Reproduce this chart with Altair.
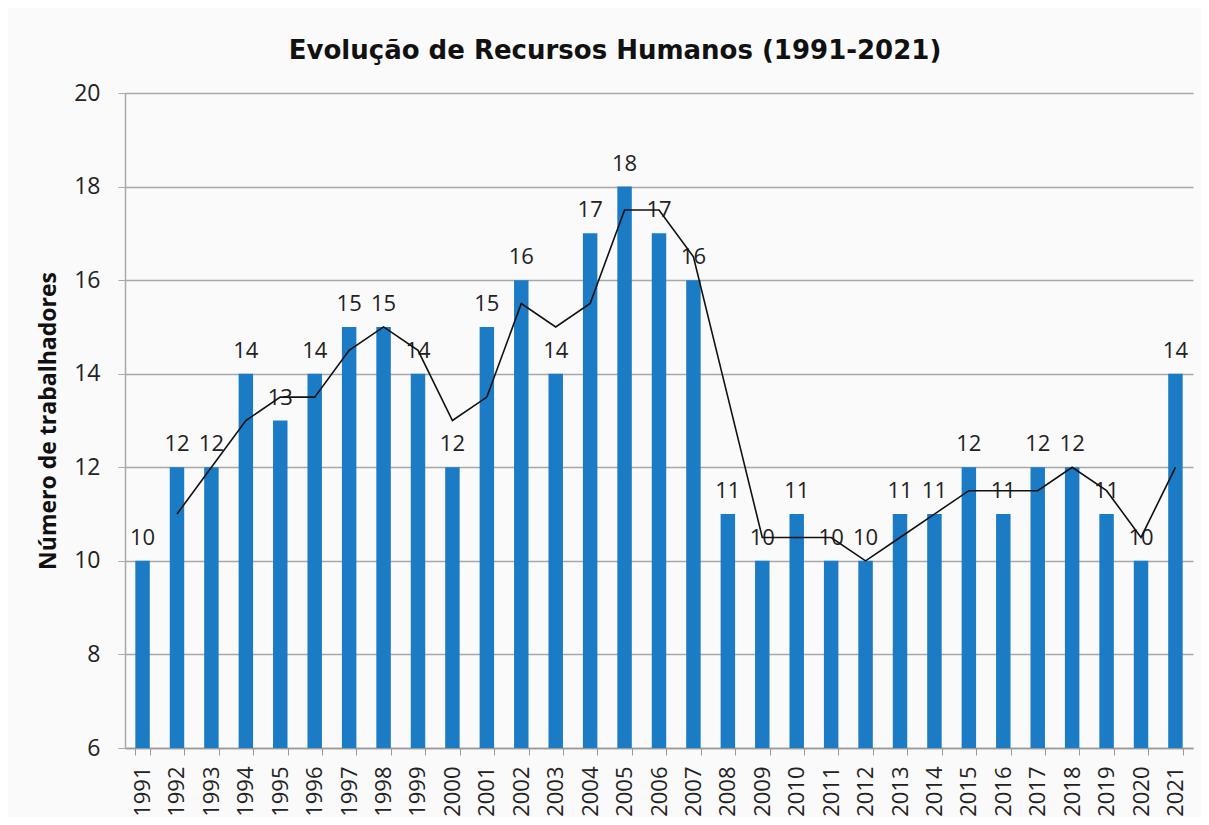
import altair as alt
import pandas as pd

years = [str(y) for y in range(1991, 2022)]
workers = [10, 12, 12, 14, 13, 14, 15, 15, 14, 12, 15, 16, 14, 17, 18, 17, 16,
           11, 10, 11, 10, 10, 11, 11, 12, 11, 12, 12, 11, 10, 14]
trend_years = [str(y) for y in range(1992, 2022)]
trend_values = [11, 12, 13, 13.5, 13.5, 14.5, 15, 14.5, 13, 13.5, 15.5, 15, 15.5,
                17.5, 17.5, 16.5, 13.5, 10.5, 10.5, 10.5, 10, 10.5, 11, 11.5, 11.5,
                11.5, 12, 11.5, 10.5, 12]

bars_df = pd.DataFrame({"ano": years, "valor": workers})
line_df = pd.DataFrame({"ano": trend_years, "media": trend_values})

FONT = "Open Sans"
x_enc = alt.X("ano:N", sort=years,
              scale=alt.Scale(domain=years, paddingInner=0.58, paddingOuter=0.3),
              axis=alt.Axis(title=None, labelAngle=-90, labelFontSize=22, labelFont=FONT,
                            labelColor="#222", tickBand="extent", tickSize=7,
                            tickColor="#999", domainColor="#999", domainWidth=1.5,
                            labelPadding=11, grid=False))
y_scale = alt.Scale(domain=[6, 20], nice=False, zero=False)

bars = alt.Chart(bars_df).mark_bar(color="#1b7bc4", clip=True).encode(
    x=x_enc,
    y=alt.Y("valor:Q", scale=y_scale,
            axis=alt.Axis(title="Número de trabalhadores", values=[6, 8, 10, 12, 14, 16, 18, 20],
                          titleFont=FONT, titleFontSize=23, titleFontWeight="bold",
                          titleColor="#111", titlePadding=13,
                          labelFont=FONT, labelFontSize=23, labelColor="#222",
                          labelPadding=18, tickSize=7, tickColor="#aaa",
                          domainColor="#aaa", domainWidth=1.5,
                          gridColor="#a8a8a8", gridWidth=1.5)),
    y2=alt.datum(6),
)

labels = alt.Chart(bars_df).mark_text(fontSize=22, font=FONT, color="#222",
                                      baseline="bottom", dy=-11).encode(
    x=alt.X("ano:N", sort=years),
    y=alt.Y("valor:Q"),
    text=alt.Text("valor:Q"),
)

line = alt.Chart(line_df).mark_line(color="#111", strokeWidth=1.6).encode(
    x=alt.X("ano:N", sort=years),
    y=alt.Y("media:Q"),
)

chart = alt.layer(bars, labels, line).properties(
    width=1068, height=655,
    title=alt.TitleParams("Evolução de Recursos Humanos (1991-2021)", font="DejaVu Sans",
                          fontSize=26, fontWeight="bold", color="#111",
                          anchor="middle", offset=18, dx=-44),
    autosize=alt.AutoSizeParams(type="none"),
    padding={"left": 117, "top": 85, "right": 8, "bottom": 69},
    background="#fafafa",
).configure_view(stroke=None)

chart.save("out.html", embed_options={"renderer": "svg", "actions": False})
